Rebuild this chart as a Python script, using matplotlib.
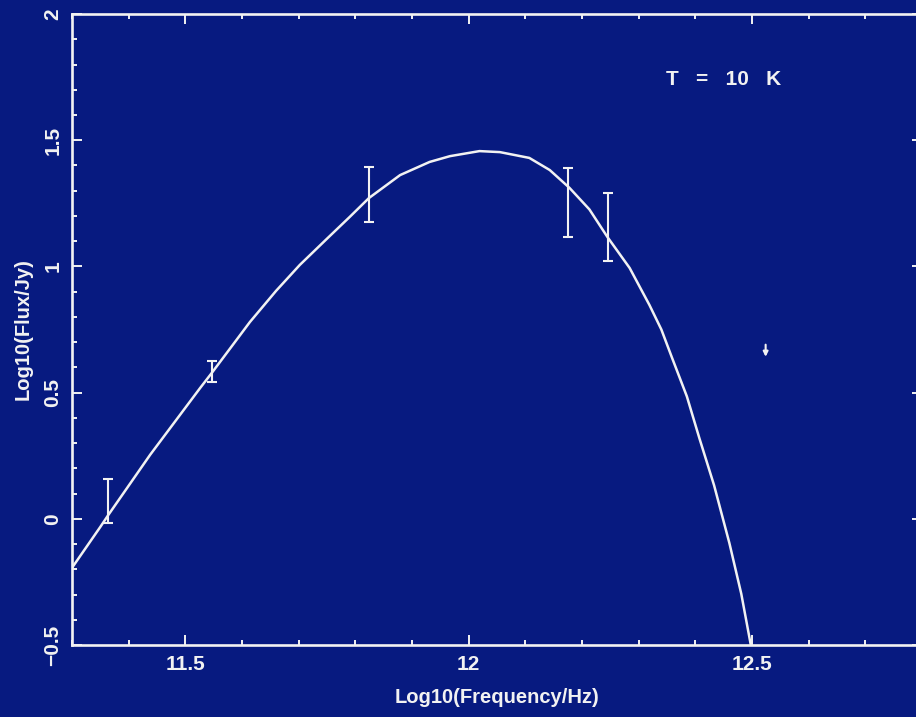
import matplotlib.pyplot as plt
from matplotlib.ticker import MultipleLocator

bg = '#071a80'
fg = '#f2f2f2'

# greybody fit, T = 10 K (log10 nu, log10 flux)
fit_x = [11.301, 11.350, 11.364, 11.438, 11.526, 11.548, 11.614, 11.660, 11.702,
         11.750, 11.790, 11.824, 11.879, 11.931, 11.967, 12.019, 12.055, 12.107,
         12.143, 12.178, 12.213, 12.245, 12.284, 12.319, 12.340, 12.359, 12.385,
         12.407, 12.433, 12.460, 12.481, 12.498]
fit_y = [-0.191, -0.032, 0.015, 0.254, 0.518, 0.582, 0.780, 0.903, 1.006,
         1.110, 1.196, 1.271, 1.362, 1.414, 1.437, 1.457, 1.453, 1.430,
         1.382, 1.311, 1.226, 1.116, 0.994, 0.847, 0.750, 0.637, 0.485,
         0.320, 0.133, -0.096, -0.297, -0.502]

# measured fluxes with errors
obs_x = [11.364, 11.547, 11.824, 12.176, 12.245]
obs_y = [0.070, 0.584, 1.285, 1.252, 1.157]
obs_err = [0.087, 0.043, 0.110, 0.137, 0.135]

# upper limit
ul_x = 12.524
ul_y = 0.69

plt.rcParams['font.family'] = ['Liberation Sans', 'DejaVu Sans']

fig = plt.figure(figsize=(9.16, 7.17), dpi=100, facecolor=bg)
ax = fig.add_axes([0.0786, 0.1004, 0.928, 0.880], facecolor=bg)

ax.plot(fit_x, fit_y, color=fg, lw=1.8, solid_joinstyle='round')
ax.errorbar(obs_x, obs_y, yerr=obs_err, fmt='none', ecolor=fg,
            elinewidth=1.5, capsize=3.4, capthick=1.5)
ax.annotate('', xy=(ul_x, ul_y - 0.048), xytext=(ul_x, ul_y),
            arrowprops=dict(arrowstyle='-|>', color=fg, lw=1.5,
                            mutation_scale=7, shrinkA=0, shrinkB=0))

ax.text(12.349, 1.739, 'T   =   10   K', color=fg, fontsize=15,
        fontweight='bold', ha='left', va='center')

ax.set_xlim(11.3, 12.8)
ax.set_ylim(-0.5, 2)
ax.set_xticks([11.5, 12, 12.5])
ax.set_xticklabels(['11.5', '12', '12.5'])
ax.set_yticks([-0.5, 0, 0.5, 1, 1.5, 2])
ax.set_yticklabels(['\u22120.5', '0', '0.5', '1', '1.5', '2'])
ax.xaxis.set_minor_locator(MultipleLocator(0.1))
ax.yaxis.set_minor_locator(MultipleLocator(0.1))

ax.tick_params(which='both', direction='in', top=True, right=True,
               color=fg, labelcolor=fg, labelsize=15, width=1.4, pad=7)
ax.tick_params(which='major', length=7.2)
ax.tick_params(which='minor', length=3.6)
plt.setp(ax.get_yticklabels(), rotation=90, va='center', fontweight='bold')
plt.setp(ax.get_xticklabels(), fontweight='bold')

for s in ax.spines.values():
    s.set_color(fg)
    s.set_linewidth(1.9)

ax.set_xlabel('Log10(Frequency/Hz)', color=fg, fontsize=14.5,
              fontweight='bold', labelpad=10)
ax.set_ylabel('Log10(Flux/Jy)', color=fg, fontsize=14.5,
              fontweight='bold', labelpad=8)

fig.savefig('out.png', dpi=100, facecolor=bg)
